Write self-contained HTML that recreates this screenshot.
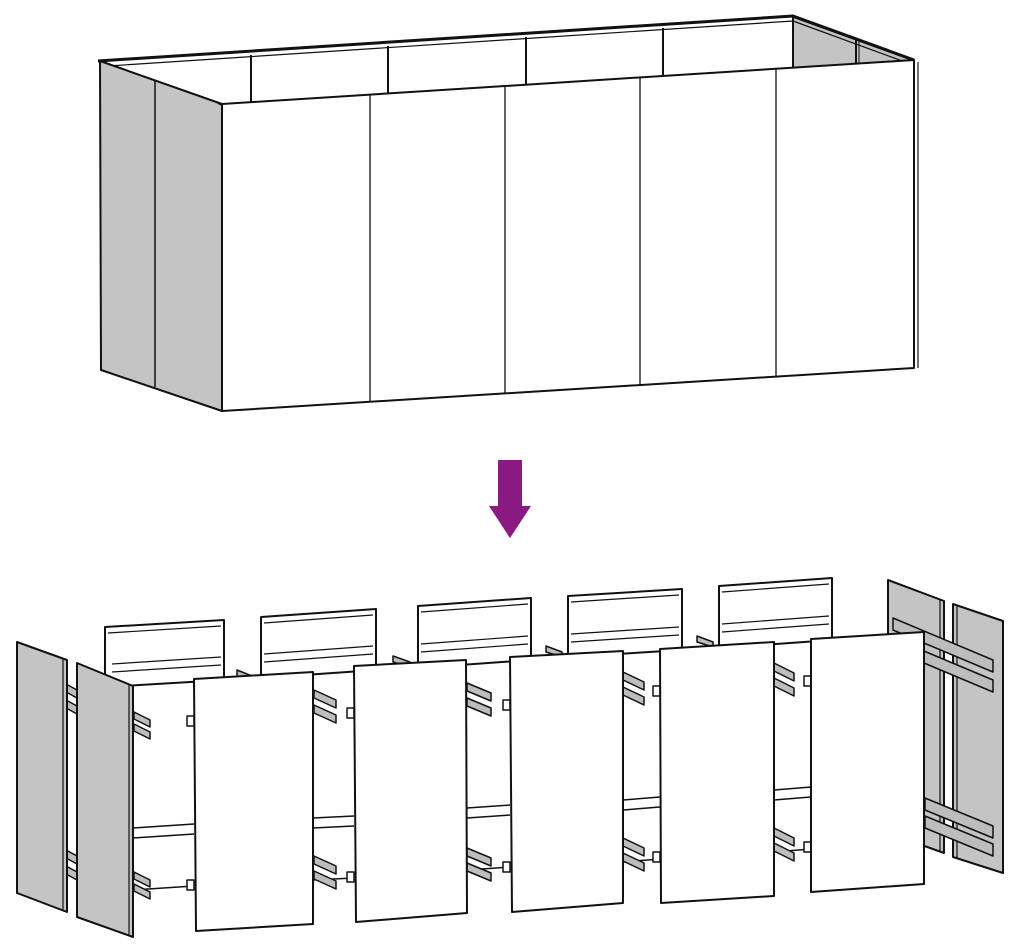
<!DOCTYPE html>
<html><head><meta charset="utf-8"><style>
html,body{margin:0;padding:0;background:#fff;width:1020px;height:948px;overflow:hidden}
svg{display:block}
</style></head><body>
<svg width="1020" height="948" viewBox="0 0 1020 948" xmlns="http://www.w3.org/2000/svg">
<g stroke="#111" stroke-linejoin="round" fill="none">
<!-- TOP BOX -->
<!-- inner right gray -->
<polygon points="793,17 912,60 793,68" fill="#c4c4c4" stroke-width="1.5"/>
<line x1="856" y1="40" x2="856" y2="64" stroke-width="2"/>
<line x1="859" y1="41" x2="859" y2="64" stroke-width="1"/>
<!-- back inner wall top -->
<polyline points="98,61 793,16 914,60" stroke-width="3"/>
<polyline points="108,66 793,21 905,62" stroke-width="1.2"/>
<!-- inner back bottom line -->
<line x1="251" y1="103" x2="793" y2="68" stroke-width="2"/>
<g stroke-width="2">
<line x1="251" y1="55" x2="251" y2="103"/>
<line x1="388" y1="46" x2="388" y2="94"/>
<line x1="526" y1="37" x2="526" y2="85"/>
<line x1="663" y1="28" x2="663" y2="76"/>
<line x1="793" y1="17" x2="793" y2="68"/>
</g>
<!-- left side gray -->
<polygon points="100,61 222,104 222,411 101,370" fill="#c4c4c4" stroke-width="2"/>
<line x1="155" y1="80" x2="155" y2="387" stroke-width="1.5"/>
<!-- front face -->
<polygon points="222,104 914,60 914,368 222,411" fill="#fff" stroke-width="2"/>
<line x1="218" y1="103" x2="222" y2="105" stroke-width="2"/>
<line x1="918" y1="62" x2="918" y2="368" stroke-width="1.2"/>
<g stroke-width="1.3">
<line x1="370" y1="95" x2="370" y2="402"/>
<line x1="505" y1="86" x2="505" y2="393"/>
<line x1="640" y1="77" x2="640" y2="385"/>
<line x1="776" y1="69" x2="776" y2="377"/>
</g>
</g>
<!-- ARROW -->
<polygon points="498,460 522,460 522,506 531,506 510,538 489,506 498,506" fill="#8a1a82"/>

<g stroke="#111" stroke-linejoin="round" fill="none" stroke-width="2">
<!-- BACK PANELS (bottom section) -->
<g fill="#fff">
<polygon points="105,627 224,620 224,680 105,687"/>
<polygon points="261,617 376,609 376,670 261,678"/>
<polygon points="418,606 531,598 531,660 418,668"/>
<polygon points="568,596 682,589 682,650 568,657"/>
<polygon points="719,586 832,578 832,640 719,648"/>
</g>
<g stroke-width="1.2">
<line x1="108" y1="633" x2="221" y2="626"/><line x1="112" y1="664" x2="221" y2="657"/><line x1="112" y1="672" x2="221" y2="665"/>
<line x1="264" y1="623" x2="373" y2="615"/><line x1="264" y1="654" x2="373" y2="646"/><line x1="264" y1="662" x2="373" y2="654"/>
<line x1="421" y1="612" x2="528" y2="604"/><line x1="421" y1="644" x2="528" y2="636"/><line x1="421" y1="652" x2="528" y2="644"/>
<line x1="571" y1="602" x2="679" y2="595"/><line x1="571" y1="634" x2="679" y2="627"/><line x1="571" y1="642" x2="679" y2="635"/>
<line x1="722" y1="592" x2="829" y2="584"/><line x1="722" y1="624" x2="829" y2="616"/><line x1="722" y1="632" x2="829" y2="624"/>
</g>
<!-- lower horizontal rails -->
<g stroke-width="1.5">
<line x1="133" y1="828" x2="194" y2="824"/><line x1="133" y1="838" x2="194" y2="834"/>
<line x1="313" y1="818" x2="354" y2="816"/><line x1="313" y1="828" x2="354" y2="826"/>
<line x1="467" y1="808" x2="510" y2="805"/><line x1="467" y1="818" x2="510" y2="815"/>
<line x1="623" y1="800" x2="660" y2="797"/><line x1="623" y1="810" x2="660" y2="807"/>
<line x1="774" y1="790" x2="811" y2="787"/><line x1="774" y1="800" x2="811" y2="797"/>
<line x1="133" y1="890" x2="194" y2="886"/>
<line x1="313" y1="880" x2="354" y2="878"/>
<line x1="467" y1="870" x2="510" y2="867"/>
<line x1="623" y1="862" x2="660" y2="859"/>
<line x1="774" y1="852" x2="811" y2="849"/>
</g>
<!-- gray rail stubs -->
<g fill="#bdbdbd" stroke-width="1.5">
<polygon points="134,712 150,720 150,727 134,719"/><polygon points="134,724 150,732 150,739 134,731"/>
<polygon points="134,872 150,880 150,887 134,879"/><polygon points="134,884 150,892 150,899 134,891"/>
<polygon points="66,684 77,690 77,698 66,692"/><polygon points="66,700 77,706 77,714 66,708"/>
<polygon points="66,850 77,856 77,864 66,858"/><polygon points="66,866 77,872 77,880 66,874"/>
<polygon points="314,690 336,700 336,708 314,698"/><polygon points="314,705 336,715 336,723 314,713"/>
<polygon points="314,856 336,866 336,874 314,864"/><polygon points="314,871 336,881 336,889 314,879"/>
<polygon points="467,683 491,693 491,701 467,691"/><polygon points="467,698 491,708 491,716 467,706"/>
<polygon points="467,848 491,858 491,866 467,856"/><polygon points="467,863 491,873 491,881 467,871"/>
<polygon points="623,672 644,682 644,690 623,680"/><polygon points="623,687 644,697 644,705 623,695"/>
<polygon points="623,838 644,848 644,856 623,846"/><polygon points="623,853 644,863 644,871 623,861"/>
<polygon points="774,663 794,673 794,681 774,671"/><polygon points="774,678 794,688 794,696 774,686"/>
<polygon points="774,828 794,838 794,846 774,836"/><polygon points="774,843 794,853 794,861 774,851"/>
<polygon points="237,670 252,676 252,681 237,676"/><polygon points="393,656 410,662 410,667 393,662"/>
<polygon points="546,646 562,652 562,657 546,652"/><polygon points="697,636 713,642 713,647 697,642"/>
</g>
<!-- small connectors -->
<g fill="#fff" stroke-width="1.5">
<rect x="187" y="716" width="7" height="10"/><rect x="187" y="880" width="7" height="10"/>
<rect x="347" y="708" width="7" height="10"/><rect x="347" y="872" width="7" height="10"/>
<rect x="503" y="700" width="7" height="10"/><rect x="503" y="862" width="7" height="10"/>
<rect x="653" y="686" width="7" height="10"/><rect x="653" y="852" width="7" height="10"/>
<rect x="804" y="676" width="7" height="10"/><rect x="804" y="842" width="7" height="10"/>
</g>
<!-- RIGHT GRAY PANELS -->
<polygon points="888,580 944,601 944,853 888,833" fill="#c4c4c4"/>
<line x1="940" y1="600" x2="940" y2="852" stroke-width="1.2"/>
<polygon points="953,604 1003,621 1003,873 953,857" fill="#c4c4c4"/>
<line x1="957" y1="606" x2="957" y2="858" stroke-width="1.2"/>
<g fill="#bdbdbd" stroke-width="1.5">
<polygon points="893,618 993,660 993,672 893,630"/><polygon points="893,638 993,680 993,692 893,650"/>
<polygon points="925,798 993,826 993,838 925,810"/><polygon points="925,816 993,844 993,856 925,828"/>
</g>
<!-- FRONT PANELS -->
<g fill="#fff">
<polygon points="194,679 313,672 313,924 196,931"/>
<polygon points="354,666 466,660 467,913 356,922"/>
<polygon points="510,657 623,651 623,903 512,912"/>
<polygon points="660,649 774,642 774,896 661,903"/>
<polygon points="811,639 924,632 924,884 811,892"/>
</g>
<!-- LEFT GRAY PANELS -->
<polygon points="17,642 67,660 67,912 17,893" fill="#c4c4c4"/>
<line x1="63" y1="659" x2="63" y2="911" stroke-width="1.2"/>
<polygon points="77,663 133,686 133,937 77,917" fill="#c4c4c4"/>
<line x1="129" y1="685" x2="129" y2="935" stroke-width="1.2"/>
</g>
</svg>
</body></html>
